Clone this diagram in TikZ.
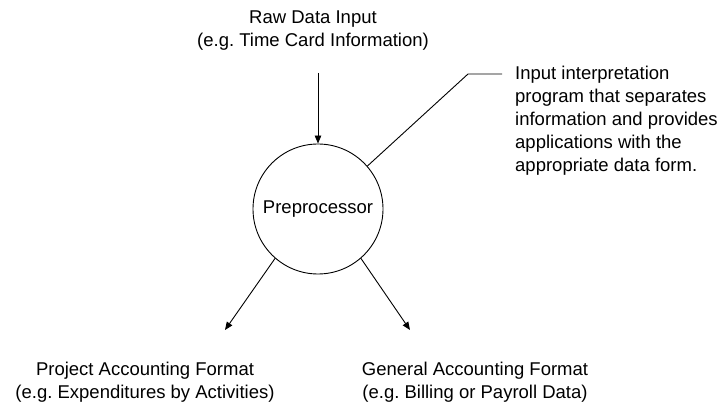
\documentclass[tikz,border=0pt]{standalone}
\usepackage{fontspec}
\setmainfont{Liberation Sans}
\usepackage{tikz}
\usetikzlibrary{arrows.meta,positioning,shapes.geometric,calc}
\frenchspacing

\begin{document}
\begin{tikzpicture}[x=1pt,y=-1pt,
  txt/.style={align=center,inner sep=0pt,font=\fontsize{18.5}{23}\selectfont},
  proc/.style={draw,circle,minimum size=130pt,inner sep=0pt,line width=0.9pt,font=\fontsize{18.5}{23}\selectfont},
  arrow/.style={-{Triangle[length=8pt,width=6.5pt]}, line width=0.9pt},
  callout/.style={line width=0.9pt}]
  \useasboundingbox (0,0) rectangle (720,406);
  \node[proc] (proc) at (318,209) {Preprocessor};
  \node[txt] (raw) at (313,31) {Raw Data Input\\(e.g. Time Card Information)};
  \node[txt, anchor=north west, align=left] (note) at (515,66) {Input interpretation\\program that separates\\information and provides\\applications with the\\appropriate data form.};
  \node[txt] (proj) at (145,382) {Project Accounting Format\\(e.g. Expenditures by Activities)};
  \node[txt] (gen) at (475,382) {General Accounting Format\\(e.g. Billing or Payroll Data)};
  \coordinate (rawtail) at (318,73);
  \coordinate (bend) at (468,74);
  \coordinate (tail) at (502,74);
  \coordinate (projtip) at (225,330);
  \coordinate (gentip) at (410,330);
  \draw[arrow] (rawtail) -- (proc.north);
  \draw[callout] (proc.41) -- (bend) -- (tail);
  \draw[arrow] (proc.229) -- (projtip);
  \draw[arrow] (proc.311) -- (gentip);
\end{tikzpicture}
\end{document}
